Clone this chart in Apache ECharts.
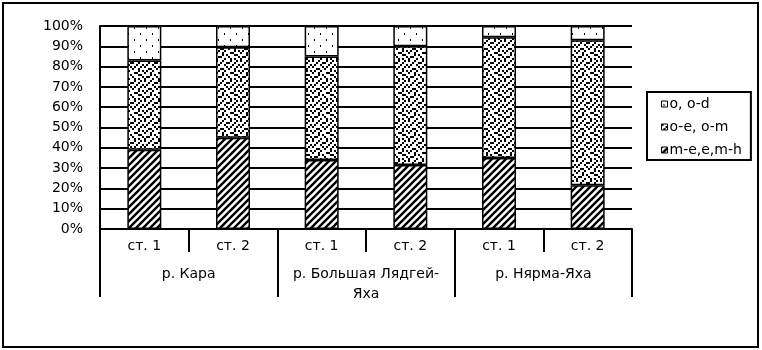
<!DOCTYPE html>
<html>
<head>
<meta charset="utf-8">
<script src="https://cdn.jsdelivr.net/npm/echarts@6/dist/echarts.min.js"></script>
<style>
html,body{margin:0;padding:0;background:#fff;}
#chart{width:762px;height:350px;}
</style>
</head>
<body>
<div id="chart"></div>
<script>
// ---- data ----
const categories = ['ст. 1', 'ст. 2', 'ст. 1', 'ст. 2', 'ст. 1', 'ст. 2'];
const groups = ['р. Кара', 'р. Большая Лядгей-\nЯха', 'р. Нярма-Яха'];
const seriesNames = ['m-e,e,m-h', 'o-e, o-m', 'o, o-d'];
const meValues = [39, 45, 34, 31.5, 35, 21.5];
const oeValues = [44, 44.5, 51, 58.5, 59.5, 71.5];
const oValues = [17, 10.5, 15, 10, 5.5, 7];
const yTicks = { min: 0, max: 100, interval: 10 };

// ---- patterns ----
function makeCanvas(w, h, draw) {
  const c = document.createElement('canvas');
  c.width = w; c.height = h;
  const x = c.getContext('2d');
  x.fillStyle = '#fff'; x.fillRect(0, 0, w, h);
  x.fillStyle = '#000'; x.strokeStyle = '#000';
  draw(x, w, h);
  return c;
}
const diagCanvas = makeCanvas(7, 7, (x, s) => {
  x.lineWidth = 2.4;
  x.beginPath();
  for (let k = -1; k <= 1; k++) {
    x.moveTo(k * s - 1, s + 1);
    x.lineTo(k * s + s + 1, -1);
  }
  x.stroke();
});
const speckleRows = [
  '100100010010',
  '001001100100',
  '010010001001',
  '100001010010',
  '001100100100',
  '010010000101',
  '100100011000',
  '000101000110',
  '011000100001',
  '100010010100'
];
const speckleCanvas = makeCanvas(24, 20, (x) => {
  speckleRows.forEach((row, r) => {
    for (let c = 0; c < row.length; c++) if (row[c] === '1') x.fillRect(c * 2, r * 2, 2, 2);
  });
});
const dotCanvas = makeCanvas(12, 12, (x) => {
  x.fillRect(2, 3, 1, 2);
  x.fillRect(8, 9, 1, 2);
});
const patterns = [
  { image: diagCanvas, repeat: 'repeat' },
  { image: speckleCanvas, repeat: 'repeat' },
  { image: dotCanvas, repeat: 'repeat' }
];
const seriesValues = [meValues, oeValues, oValues];

const FONT = 'DejaVu Sans';
const chart = echarts.init(document.getElementById('chart'), null, { renderer: 'canvas' });

const option = {
  animation: false,
  backgroundColor: '#fff',
  textStyle: { fontFamily: FONT, color: '#000' },
  graphic: [{
    type: 'rect', silent: true, z: 100,
    shape: { x: 3, y: 3, width: 755, height: 344 },
    style: { fill: 'none', stroke: '#000', lineWidth: 2 }
  }],
  legend: {
    orient: 'vertical',
    left: 647, top: 92,
    data: seriesNames.slice().reverse(),
    borderColor: '#000', borderWidth: 2,
    padding: [5, 9, 3, 14],
    itemGap: 9,
    itemWidth: 6, itemHeight: 6,
    icon: 'rect',
    itemStyle: { borderColor: '#000', borderWidth: 1 },
    textStyle: { fontFamily: FONT, fontSize: 14, lineHeight: 14, color: '#000', padding: [0, 0, 0, -3] }
  },
  grid: { left: 100, right: 130, top: 26, bottom: 121 },
  xAxis: [{
    type: 'category',
    data: categories,
    axisLine: { show: true, lineStyle: { color: '#000', width: 2 } },
    axisTick: { show: true, interval: 0, length: 23, lineStyle: { color: '#000', width: 2 } },
    axisLabel: { interval: 0, margin: 10, fontSize: 14, lineHeight: 14, color: '#000', fontFamily: FONT },
    splitLine: { show: false }
  }, {
    type: 'category',
    position: 'bottom',
    data: groups,
    axisLine: { show: false },
    axisTick: { show: true, interval: 0, length: 68, lineStyle: { color: '#000', width: 2 } },
    axisLabel: { interval: 0, margin: 35, fontSize: 14, lineHeight: 20, color: '#000', fontFamily: FONT },
    splitLine: { show: false }
  }],
  yAxis: {
    type: 'value',
    min: yTicks.min, max: yTicks.max, interval: yTicks.interval,
    axisLine: { show: true, lineStyle: { color: '#000', width: 2 } },
    axisTick: { show: false },
    splitLine: { show: true, lineStyle: { color: '#000', width: 2 } },
    axisLabel: { formatter: '{value}%', color: '#000', fontSize: 14, margin: 17, fontFamily: FONT }
  },
  series: seriesNames.map((name, i) => ({
    name: name,
    type: 'bar',
    stack: 'total',
    xAxisIndex: 0,
    barWidth: 34,
    data: seriesValues[i],
    itemStyle: { color: patterns[i], borderColor: '#000', borderWidth: 1.5 },
    emphasis: { disabled: true }
  }))
};
chart.setOption(option);
</script>
</body>
</html>
